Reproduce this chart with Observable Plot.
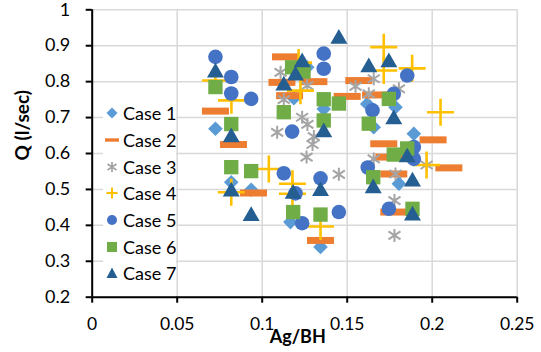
<!DOCTYPE html>
<html><head><meta charset="utf-8">
<script src="https://cdn.jsdelivr.net/npm/d3@7"></script>
<script src="https://cdn.jsdelivr.net/npm/@observablehq/plot@0.6"></script>
<style>
body{margin:0;background:#fff;font-family:Lato,sans-serif;}
#wrap{position:relative;width:541px;height:352px;overflow:hidden;}
#legend{position:absolute;left:103px;top:100px;width:73px;background:#fff;}
.row{height:26.67px;display:flex;align-items:center;font-size:18px;color:#000;white-space:nowrap;}
.row svg{width:18px;height:18px;flex:none;margin-right:2px;}
</style></head><body><div id="wrap"></div>
<script>
const seriesNames = ["Case 1","Case 2","Case 3","Case 4","Case 5","Case 6","Case 7"];
const seriesColors = ["#5B9BD5","#ED7D31","#A5A5A5","#FFC000","#4472C4","#70AD47","#255E91"];
const xTicks = [0,0.05,0.1,0.15,0.2,0.25];
const xTickLabels = ["0","0.05","0.1","0.15","0.2","0.25"];
const yTicks = [0.2,0.3,0.4,0.5,0.6,0.7,0.8,0.9,1];
const yTickLabels = ["0.2","0.3","0.4","0.5","0.6","0.7","0.8","0.9","1"];
const xTitle = "Ag/BH";
const yTitle = "Q (l/sec)";

const case1X = [0.0725,0.0818,0.0935,0.1166,0.1343,0.1265,0.1186,0.1362,0.1618,0.1784,0.1656,0.1892,0.1804];
const case1Y = [0.669,0.520,0.499,0.409,0.340,0.840,0.754,0.724,0.738,0.729,0.673,0.655,0.516];
const case2X = [0.0725,0.0831,0.0949,0.1343,0.1137,0.1116,0.1304,0.1161,0.1500,0.1568,0.1667,0.1715,0.2005,0.1745,0.2098,0.1774,0.1774];
const case2Y = [0.718,0.625,0.490,0.358,0.869,0.798,0.800,0.761,0.759,0.803,0.763,0.627,0.638,0.590,0.560,0.543,0.437];
const case3X = [0.1108,0.1265,0.1127,0.1235,0.1266,0.1088,0.1304,0.1296,0.1261,0.1451,0.1549,0.1627,0.1656,0.1804,0.1656,0.1967,0.1784,0.1778,0.1778];
const case3Y = [0.826,0.789,0.750,0.701,0.681,0.659,0.647,0.625,0.590,0.542,0.787,0.766,0.808,0.780,0.585,0.568,0.543,0.469,0.372];
const case4X = [0.0725,0.0819,0.0818,0.1039,0.1178,0.1178,0.1343,0.1214,0.1225,0.1715,0.1715,0.1882,0.2049,0.1967];
const case4Y = [0.803,0.748,0.492,0.557,0.516,0.488,0.397,0.853,0.775,0.896,0.831,0.837,0.715,0.568];
const case5X = [0.0725,0.0818,0.0818,0.0935,0.1127,0.1196,0.1235,0.1343,0.1451,0.1176,0.1362,0.1362,0.1649,0.1853,0.1774,0.1892,0.1892,0.1621,0.1745];
const case5Y = [0.869,0.813,0.767,0.752,0.545,0.489,0.406,0.531,0.437,0.661,0.878,0.836,0.720,0.817,0.766,0.618,0.585,0.561,0.446];
const case6X = [0.0725,0.0818,0.0818,0.0935,0.1127,0.1176,0.1243,0.1182,0.1343,0.1362,0.1362,0.1451,0.1627,0.1745,0.1653,0.1774,0.1853,0.1884];
const case6Y = [0.785,0.682,0.562,0.551,0.715,0.840,0.828,0.437,0.430,0.751,0.692,0.739,0.683,0.752,0.534,0.597,0.614,0.446];
const case7X = [0.0725,0.0818,0.0818,0.0935,0.1235,0.1196,0.1127,0.1182,0.1343,0.1362,0.1451,0.1627,0.1745,0.1774,0.1653,0.1853,0.1884,0.1884];
const case7Y = [0.825,0.645,0.494,0.426,0.854,0.817,0.789,0.488,0.495,0.659,0.919,0.840,0.854,0.695,0.503,0.589,0.522,0.427];

const toRows = (xs, ys) => xs.map((x, i) => ({x, y: ys[i]}));
const d1 = toRows(case1X, case1Y), d2 = toRows(case2X, case2Y), d3s = toRows(case3X, case3Y),
      d4 = toRows(case4X, case4Y), d5 = toRows(case5X, case5Y), d6 = toRows(case6X, case6Y),
      d7 = toRows(case7X, case7Y);

const dashSym = {draw(ctx){ ctx.rect(-13.5, -3.5, 27, 7); }};
const plusSym = {draw(ctx){ ctx.moveTo(-13.5,0); ctx.lineTo(13.5,0); ctx.moveTo(0,-13.5); ctx.lineTo(0,13.5); }};
const starSym = {draw(ctx){ ctx.moveTo(0,-6.5); ctx.lineTo(0,6.5); ctx.moveTo(-6,-4); ctx.lineTo(6,4); ctx.moveTo(-6,4); ctx.lineTo(6,-4); }};

const chart = Plot.plot({
  width: 541, height: 352,
  marginLeft: 91.7, marginRight: 24.3, marginTop: 9.3, marginBottom: 55.3,
  x: {domain: [0, 0.25]},
  y: {domain: [0.2, 1]},
  style: {fontFamily: "Lato, sans-serif", fontSize: "18px", background: "#fff", color: "#000", overflow: "visible"},
  marks: [
    Plot.gridX(xTicks, {stroke: "#D9D9D9", strokeOpacity: 1, strokeWidth: 1.5}),
    Plot.gridY(yTicks, {stroke: "#D9D9D9", strokeOpacity: 1, strokeWidth: 1.5}),
    Plot.axisX(xTicks, {tickSize: 6, tickPadding: 14, strokeWidth: 2, fontSize: 17.5, label: null,
      tickFormat: d => xTickLabels[xTicks.indexOf(d)]}),
    Plot.axisY(yTicks, {tickSize: 6, tickPadding: 16, strokeWidth: 2, fontSize: 18, label: null,
      tickFormat: d => yTickLabels[yTicks.indexOf(d)]}),
    Plot.ruleX([0], {stroke: "#000", strokeWidth: 2}),
    Plot.ruleY([0.2], {stroke: "#000", strokeWidth: 2}),
    Plot.dot(d1, {x: "x", y: "y", symbol: "diamond2", r: 6.6, fill: seriesColors[0], stroke: "none"}),
    Plot.dot(d2, {x: "x", y: "y", symbol: dashSym, r: 5, fill: seriesColors[1], stroke: "none"}),
    Plot.dot(d3s, {x: "x", y: "y", symbol: starSym, r: 5, fill: "none", stroke: seriesColors[2], strokeWidth: 2}),
    Plot.dot(d4, {x: "x", y: "y", symbol: plusSym, r: 5, fill: "none", stroke: seriesColors[3], strokeWidth: 2.6}),
    Plot.dot(d5, {x: "x", y: "y", symbol: "circle", r: 7.3, fill: seriesColors[4], stroke: "none"}),
    Plot.dot(d6, {x: "x", y: "y", symbol: "square", r: 8.1, fill: seriesColors[5], stroke: "none"}),
    Plot.dot(d7, {x: "x", y: "y", symbol: "triangle", r: 6.3, fill: seriesColors[6], stroke: "none"}),
    Plot.text([xTitle], {text: d => d, frameAnchor: "bottom", dx: -7, dy: 46, fontWeight: "bold", fontSize: 18, fill: "#000"}),
    Plot.text([yTitle], {text: d => d, frameAnchor: "left", rotate: -90, dx: -69, dy: 7, fontWeight: "bold", fontSize: 19, fill: "#000"})
  ]
});

const wrap = document.getElementById("wrap");
wrap.appendChild(chart);

const icons = [
  `<path d="M9 3.5 L14.5 9 L9 14.5 L3.5 9 Z" fill="${seriesColors[0]}"/>`,
  `<rect x="2" y="7.3" width="14" height="3.4" fill="${seriesColors[1]}"/>`,
  `<path d="M9 4 V14 M4.5 6 L13.5 12 M4.5 12 L13.5 6" stroke="${seriesColors[2]}" stroke-width="1.8" fill="none"/>`,
  `<path d="M3.5 9 H14.5 M9 3.5 V14.5" stroke="${seriesColors[3]}" stroke-width="2" fill="none"/>`,
  `<circle cx="9" cy="9" r="5" fill="${seriesColors[4]}"/>`,
  `<rect x="4" y="4" width="10" height="10" fill="${seriesColors[5]}"/>`,
  `<path d="M9 3.5 L14.5 14 L3.5 14 Z" fill="${seriesColors[6]}"/>`
];
const legend = document.createElement("div");
legend.id = "legend";
legend.innerHTML = seriesNames.map((n, i) =>
  `<div class="row"><svg viewBox="0 0 18 18">${icons[i]}</svg><span>${n}</span></div>`).join("");
wrap.appendChild(legend);
</script>
</body></html>
